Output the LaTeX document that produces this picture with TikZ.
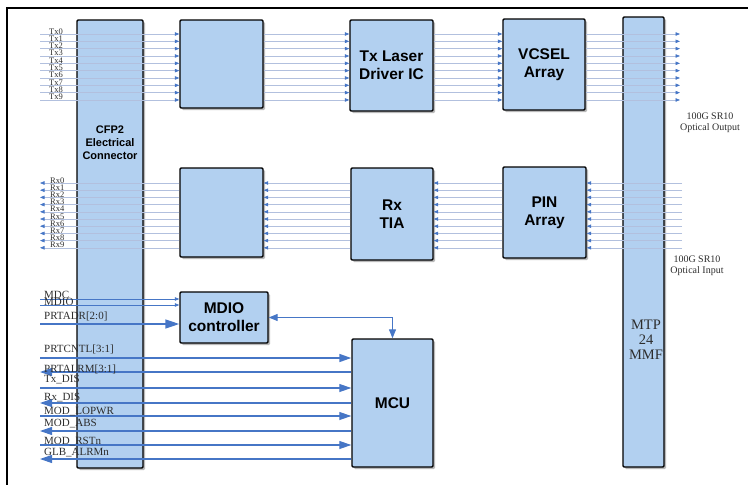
\documentclass[tikz,border=0pt]{standalone}
\usepackage{fontspec}
\setmainfont{Liberation Serif}
\setsansfont{Liberation Sans}
\usetikzlibrary{arrows.meta,shadows}
\definecolor{boxblue}{RGB}{178,208,240}
\definecolor{wireblue}{RGB}{70,118,198}
\definecolor{laneblue}{RGB}{178,192,222}
\definecolor{lblgray}{RGB}{45,45,45}

\begin{document}
\begin{tikzpicture}[x=1pt,y=-1pt,
        blk/.style={draw=black,line width=1.4pt,fill=boxblue,rounded corners=1.2pt,inner sep=0pt,
            drop shadow={shadow xshift=2pt,shadow yshift=-2pt,fill=black!45,opacity=.6},
            font=\sffamily\bfseries\fontsize{15.5}{18}\selectfont,align=center},
        lane/.style={draw=laneblue,line width=.6pt},
        ltip/.style={-{Triangle[length=4.5pt,width=3.5pt,color=wireblue]}},
        wire/.style={draw=wireblue,line width=1.1pt},
        wtip/.style={-{Triangle[length=12pt,width=8pt]}},
        lanelbl/.style={font=\fontsize{8.5}{8.5}\selectfont,text=lblgray,inner sep=0pt,anchor=base west},
        siglbl/.style={font=\fontsize{11}{11}\selectfont,text=lblgray,inner sep=0pt,anchor=base west}]
    \useasboundingbox (0,0) rectangle (748,485);
    \draw[line width=1.6pt] (7,485) -- (7,8) -- (748,8);

    % blocks
    \node[blk,minimum width=66pt,minimum height=448pt] (cfp) at (110,244) {};
    \node[blk,minimum width=83pt,minimum height=88pt] (txa) at (221.5,64) {};
    \node[blk,minimum width=83pt,minimum height=91pt] (drv) at (391.5,65.5) {Tx Laser\\Driver IC};
    \node[blk,minimum width=82pt,minimum height=91pt] (vcsel) at (544,64.5) {VCSEL\\Array};
    \node[blk,minimum width=83pt,minimum height=89pt] (rxa) at (221.5,212.5) {};
    \node[blk,minimum width=82pt,minimum height=92pt] (tia) at (392,214) {Rx\\TIA};
    \node[blk,minimum width=83pt,minimum height=91pt] (pina) at (544.5,212.5) {PIN\\Array};
    \node[blk,minimum width=88pt,minimum height=51pt] (mdio) at (224,317.5) {MDIO\\controller};
    \node[blk,minimum width=81pt,minimum height=128pt] (mcu) at (392.5,403) {MCU};
    \node[blk,minimum width=41pt,minimum height=450pt] (mtp) at (643.5,242) {};

    \node[font=\sffamily\bfseries\fontsize{11}{13}\selectfont,align=center] (cfpl) at (110,143) {CFP2\\Electrical\\Connector};
    \node[font=\fontsize{14.5}{15}\selectfont,align=center,text=lblgray] (mtpl) at (646,340) {MTP\\24\\MMF};
    \node[font=\fontsize{10}{11}\selectfont,align=center,text=lblgray] (outl) at (710,123) {100G SR10\\Optical Output};
    \node[font=\fontsize{10}{11}\selectfont,align=center,text=lblgray] (inl) at (697,266) {100G SR10\\Optical Input};

    % tx lanes
    \foreach \i in {0,...,9} {
            \coordinate (txin\i) at (40,34+7.33*\i);
            \coordinate (txout\i) at (680,34+7.33*\i);
            \draw[lane,ltip] (txin\i) -- (txin\i -| txa.west);
            \draw[lane,ltip] (txin\i -| txa.east) -- (txin\i -| drv.west);
            \draw[lane,ltip] (txin\i -| drv.east) -- (txin\i -| vcsel.west);
            \draw[lane,ltip] (txin\i -| vcsel.east) -- (txout\i);
            \node[lanelbl] (txl\i) at (49,34+7.33*\i) {Tx\i};
        }
    % rx lanes
    \foreach \i in {0,...,9} {
            \coordinate (rxin\i) at (682,183+7.2*\i);
            \coordinate (rxout\i) at (40,183+7.2*\i);
            \draw[lane,ltip] (rxin\i) -- (rxin\i -| pina.east);
            \draw[lane,ltip] (rxin\i -| pina.west) -- (rxin\i -| tia.east);
            \draw[lane,ltip] (rxin\i -| tia.west) -- (rxin\i -| rxa.east);
            \draw[lane,ltip] (rxin\i -| rxa.west) -- (rxout\i);
            \node[lanelbl] (rxl\i) at (50,183+7.2*\i) {Rx\i};
        }

    % management
    \coordinate (mdcin) at (40,299);
    \coordinate (mdioin) at (40,305);
    \coordinate (adrin) at (40,324);
    \draw[wire,line width=.6pt,ltip] (mdcin) -- (mdcin -| mdio.west);
    \draw[wire,line width=.6pt,ltip] (mdioin) -- (mdioin -| mdio.west);
    \draw[wire,line width=1.6pt,-{Triangle[length=14pt,width=9pt]}] (adrin) -- (adrin -| mdio.west);
    \draw[wire,{Triangle[length=9pt,width=7pt]}-{Triangle[length=9pt,width=7pt]}] (mdio.east) -| (mcu.north);

    \coordinate (ctlin) at (40,358);
    \draw[wire,line width=1.6pt,wtip] (ctlin) -- (ctlin -| mcu.west);
    \foreach \y [count=\k] in {388,416,445} {
            \coordinate (mcuin\k) at (40,\y);
            \draw[wire,wtip] (mcuin\k) -- (mcuin\k -| mcu.west);
        }
    \foreach \y [count=\k] in {372,403,431,459} {
            \coordinate (mcuout\k) at (40,\y);
            \draw[wire,wtip] (mcuout\k -| mcu.west) -- (mcuout\k);
        }
    \foreach \y/\t [count=\k] in {298/MDC,305.5/MDIO,319/{PRTADR[2:0]},352/{PRTCNTL[3:1]},372/{PRTALRM[3:1]},
            382/Tx\_DIS,400/Rx\_DIS,414/MOD\_LOPWR,426/MOD\_ABS,444/MOD\_RSTn,455/GLB\_ALRMn} {
            \node[siglbl] (sig\k) at (44,\y) {\t};
        }
\end{tikzpicture}
\end{document}
